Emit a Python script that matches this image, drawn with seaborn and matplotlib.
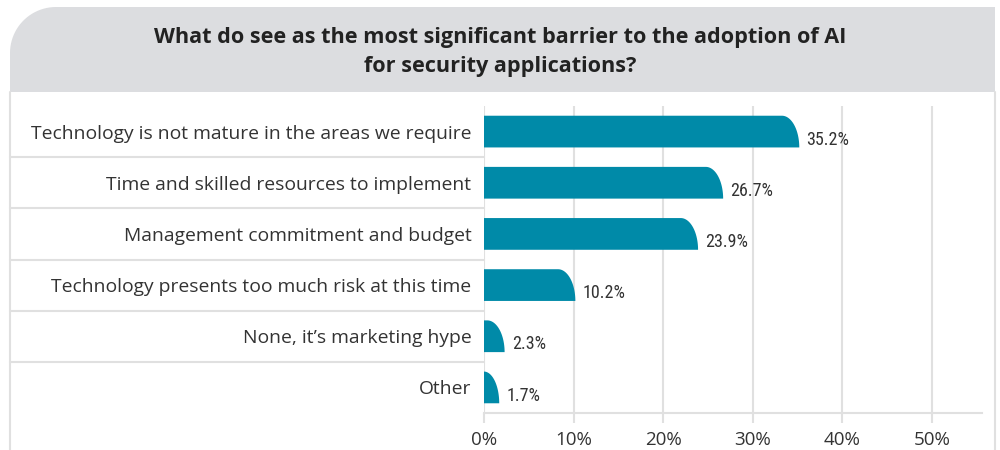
import numpy as np
import pandas as pd
import matplotlib
matplotlib.use("Agg")
import matplotlib.pyplot as plt
import seaborn as sns
from matplotlib.path import Path
from matplotlib.patches import PathPatch
from matplotlib.lines import Line2D

# Data
categories = [
    "Technology is not mature in the areas we require",
    "Time and skilled resources to implement",
    "Management commitment and budget",
    "Technology presents too much risk at this time",
    "None, it\u2019s marketing hype",
    "Other",
]
values = [35.2, 26.7, 23.9, 10.2, 2.3, 1.7]
value_labels = ["35.2%", "26.7%", "23.9%", "10.2%", "2.3%", "1.7%"]
x_ticks = [0, 10, 20, 30, 40, 50]
title = "What do see as the most significant barrier to the adoption of AI\nfor security applications?"

BAR = "#008aa8"
TEXT = "#333333"
GRID = "#e0e0e0"
HEADER = "#dcdde0"

sns.set_theme(style="white")
plt.rcParams["font.family"] = ["Open Sans", "DejaVu Sans"]

df = pd.DataFrame({"category": categories, "value": values})

fig = plt.figure(figsize=(10, 4.5), dpi=100)
fig.patch.set_facecolor("white")

# header band with rounded top-left corner (figure coords)
W, H = 1000.0, 450.0
x0, x1, y0, y1, r = 10 / W, 995 / W, 1 - 92 / H, 1 - 7 / H, 46.0
t = np.linspace(np.pi, np.pi / 2, 24)
arc = np.column_stack([x0 + r / W + (r / W) * np.cos(t), y1 - r / H + (r / H) * np.sin(t)])
verts = np.vstack([[x0, y0], arc, [x1, y1], [x1, y0], [x0, y0]])
codes = [Path.MOVETO] + [Path.LINETO] * (len(verts) - 2) + [Path.CLOSEPOLY]
fig.patches.append(PathPatch(Path(verts, codes), transform=fig.transFigure,
                             facecolor=HEADER, edgecolor="none", zorder=0))
# panel side borders
for xb in (x0, x1):
    fig.add_artist(Line2D([xb, xb], [0, y0], transform=fig.transFigure, color=GRID, lw=1.5))

fig.text(0.5, 1 - 52 / H, title, ha="center", va="center", fontsize=15.6,
         fontweight="bold", color="#222222", linespacing=1.5)

ax = fig.add_axes([0.484, 1 - 413 / H, 0.498, (413 - 106) / H])
sns.barplot(data=df, x="value", y="category", color=BAR, width=0.62,
            saturation=1, ax=ax, zorder=3)

# swap plain rectangles for bars with a rounded top-right end
fig.canvas.draw()
px_per_unit = ax.transData.transform((1, 0))[0] - ax.transData.transform((0, 0))[0]
rx_base = 26 / px_per_unit
for p in list(ax.patches):
    bx, by, bw, bh = p.get_x(), p.get_y(), p.get_width(), p.get_height()
    p.set_visible(False)
    rx = min(rx_base, bw)
    top, bot = by, by + bh
    tt = np.linspace(0, np.pi / 2, 30)
    curve = np.column_stack([bx + bw - rx + rx * np.sin(tt), bot - bh * np.cos(tt)])
    v = np.vstack([[bx, top], curve, [bx, bot], [bx, top]])
    c = [Path.MOVETO] + [Path.LINETO] * (len(v) - 2) + [Path.CLOSEPOLY]
    ax.add_patch(PathPatch(Path(v, c), facecolor=BAR, edgecolor="none", zorder=3))

for i, (val, lab) in enumerate(zip(values, value_labels)):
    ax.text(val + 0.8, i + 0.16, lab, va="center", ha="left", fontsize=13,
            color=TEXT, family=["Roboto Condensed", "Liberation Sans Narrow", "Roboto"])

ax.set_xlim(0, 55.6)
ax.set_ylim(5.5, -0.5)
ax.set_xticks(x_ticks)
ax.set_xticklabels([f"{v}%" for v in x_ticks])
ax.set_xlabel("")
ax.set_ylabel("")
ax.xaxis.grid(True, color=GRID, lw=1.5, zorder=0)
ax.set_axisbelow(True)
for s in ["top", "right", "left"]:
    ax.spines[s].set_visible(False)
ax.spines["bottom"].set_color(GRID)
ax.spines["bottom"].set_linewidth(1.5)
ax.tick_params(axis="x", length=7, width=1.5, color=GRID, pad=6, labelsize=13.5,
               labelcolor=TEXT, bottom=True)
ax.tick_params(axis="y", length=0, pad=9, labelsize=13.9, labelcolor=TEXT)

# row separators across the label area
left_ax = (10 - 484) / 498
for yy in np.arange(0.5, len(categories) - 1, 1.0):
    ax.plot([left_ax, 0], [yy, yy], transform=ax.get_yaxis_transform(),
            color=GRID, lw=1.5, clip_on=False, zorder=1)

fig.savefig("out.png", dpi=100)
